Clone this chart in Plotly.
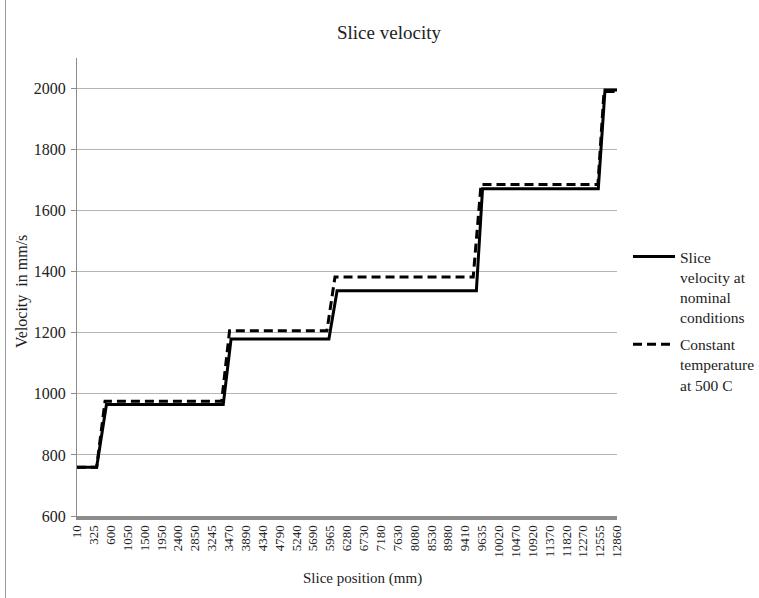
import numpy as np
import plotly.graph_objects as go

# Slice positions (mm) shown as category labels along the x axis
tick_positions_mm = [10, 325, 600, 1050, 1500, 1950, 2400, 2850, 3245, 3470,
                     3890, 4340, 4790, 5240, 5690, 5965, 6280, 6730, 7180, 7630,
                     8080, 8530, 8980, 9410, 9635, 10020, 10470, 10920, 11370,
                     11820, 12270, 12555, 12860]

# Slice velocity at nominal conditions: breakpoints (mm, mm/s)
nominal_mm = [10, 370, 530, 3395, 3525, 5945, 6095, 9560, 9647, 12524, 12643, 12860]
nominal_v = [760, 760, 965, 965, 1180, 1180, 1338, 1338, 1672, 1672, 1995, 1995]

# Constant temperature at 500 C: breakpoints (mm, mm/s)
const_mm = [10, 370, 507, 3374, 3487, 5913, 6056, 9518, 9622, 12518, 12625, 12860]
const_v = [760, 760, 976, 976, 1207, 1207, 1383, 1383, 1686, 1686, 1990, 1990]

y_ticks = [600, 800, 1000, 1200, 1400, 1600, 1800, 2000]

# Category axis: each labelled slice position occupies one slot
slot = np.arange(len(tick_positions_mm))


def to_slot(mm):
    return np.interp(mm, tick_positions_mm, slot)


SERIF = "Liberation Serif"
TXT = "#222222"

fig = go.Figure()
fig.add_trace(go.Scatter(
    x=to_slot(nominal_mm), y=nominal_v, mode="lines",
    name="Slice<br>velocity at<br>nominal<br>conditions",
    legendgroup="nominal",
    line=dict(color="black", width=3),
))
fig.add_trace(go.Scatter(
    x=to_slot(const_mm), y=const_v, mode="lines",
    name="Constant<br>temperature<br>at 500 C",
    legendgroup="constant",
    line=dict(color="black", width=3, dash="9px,5px"),
))

W, H = 759, 598
L, R, T, B = 77, 617, 58, 516

fig.update_layout(
    width=W, height=H,
    margin=dict(l=L, r=W - R, t=T, b=H - B, autoexpand=False),
    paper_bgcolor="white", plot_bgcolor="white",
    font=dict(family=SERIF, color=TXT),
    showlegend=True,
    legend=dict(
        x=(628 - L) / (R - L), xanchor="left",
        y=(516 - 240) / (B - T), yanchor="top",
        font=dict(family=SERIF, size=15.5, color=TXT),
        valign="top", itemwidth=42,
        traceorder="grouped", tracegroupgap=4,
        bgcolor="rgba(0,0,0,0)",
    ),
    xaxis=dict(
        range=[0, len(tick_positions_mm) - 1],
        tickmode="array", tickvals=slot,
        ticktext=[str(v) for v in tick_positions_mm],
        tickangle=-90, tickfont=dict(family=SERIF, size=13, color=TXT),
        showgrid=False, zeroline=False,
        showline=True, linecolor="#8c8c8c", linewidth=4,
        ticks="", fixedrange=True,
    ),
    yaxis=dict(
        range=[600, 2100], tickvals=y_ticks,
        tickfont=dict(family=SERIF, size=16, color=TXT),
        showgrid=True, gridcolor="#b4b4b4", gridwidth=1,
        zeroline=False, showline=True, linecolor="#8c8c8c", linewidth=1,
        ticks="outside", ticklen=5, tickcolor="#8c8c8c",
        ticklabelstandoff=2,
    ),
    annotations=[
        dict(text="Slice velocity", xref="paper", yref="paper",
             x=(389 - L) / (R - L), y=(516 - 33) / (B - T),
             xanchor="center", yanchor="middle", showarrow=False,
             font=dict(family=SERIF, size=19, color=TXT)),
        dict(text="Slice position (mm)", xref="paper", yref="paper",
             x=(362 - L) / (R - L), y=(516 - 578) / (B - T),
             xanchor="center", yanchor="middle", showarrow=False,
             font=dict(family=SERIF, size=15, color=TXT)),
        dict(text="Velocity  in mm/s", xref="paper", yref="paper",
             x=(22 - L) / (R - L), y=(516 - 292) / (B - T),
             xanchor="center", yanchor="middle", showarrow=False,
             textangle=-90,
             font=dict(family=SERIF, size=16, color=TXT)),
    ],
    shapes=[
        dict(type="line", xref="paper", yref="paper",
             x0=(5.5 - L) / (R - L), x1=(5.5 - L) / (R - L),
             y0=(516 - 0) / (B - T), y1=(516 - 598) / (B - T),
             line=dict(color="#9a9a9a", width=1)),
    ],
)

fig.write_html("out.html")
